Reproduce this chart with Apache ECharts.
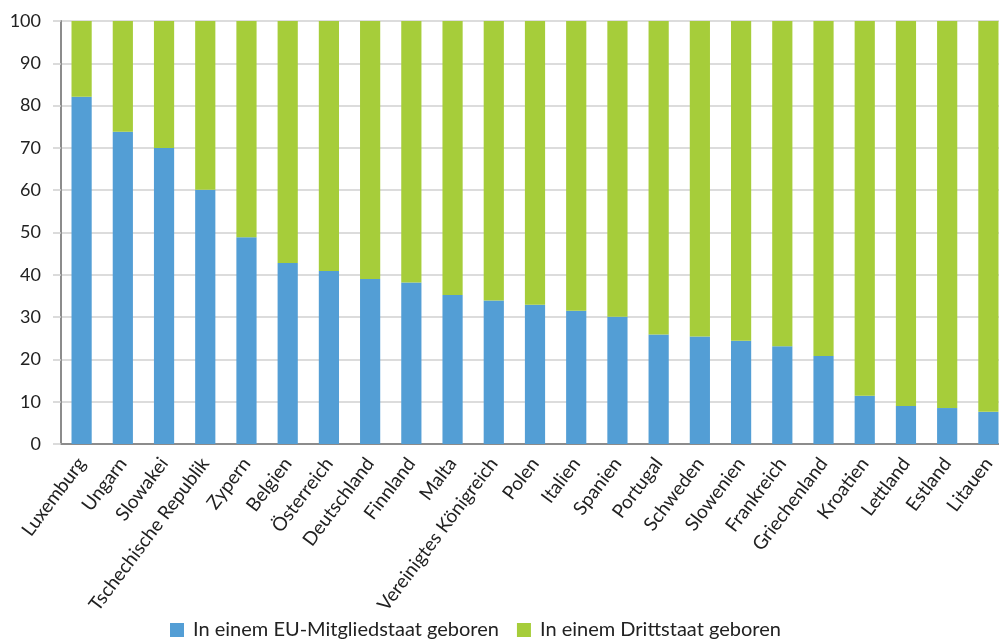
<!DOCTYPE html>
<html>
<head>
<meta charset="utf-8">
<script src="https://cdn.jsdelivr.net/npm/echarts@6/dist/echarts.min.js"></script>
<style>
  html, body { margin: 0; padding: 0; background: #fff; }
  #chart { width: 999px; height: 639px; }
</style>
</head>
<body>
<div id="chart"></div>
<script>
// Countries, sorted by share born in another EU member state
const countries = [
  'Luxemburg', 'Ungarn', 'Slowakei', 'Tschechische Republik', 'Zypern', 'Belgien',
  'Österreich', 'Deutschland', 'Finnland', 'Malta', 'Vereinigtes Königreich', 'Polen',
  'Italien', 'Spanien', 'Portugal', 'Schweden', 'Slowenien', 'Frankreich',
  'Griechenland', 'Kroatien', 'Lettland', 'Estland', 'Litauen'
];

// Share (%) born in another EU member state
const bornEU = [
  82.1, 73.8, 70.0, 60.1, 48.9, 42.8,
  40.9, 39.0, 38.2, 35.2, 33.9, 32.9,
  31.5, 30.1, 25.9, 25.4, 24.4, 23.1,
  20.8, 11.4, 9.0, 8.5, 7.6
];

// Share (%) born in a third country (remainder to 100)
const bornThird = [
  17.9, 26.2, 30.0, 39.9, 51.1, 57.2,
  59.1, 61.0, 61.8, 64.8, 66.1, 67.1,
  68.5, 69.9, 74.1, 74.6, 75.6, 76.9,
  79.2, 88.6, 91.0, 91.5, 92.4
];

const yTicks = { min: 0, max: 100, interval: 10 };

const seriesNames = ['In einem EU-Mitgliedstaat geboren', 'In einem Drittstaat geboren'];
const colors = ['#539ED5', '#A6CD3A'];

const font = 'Lato, "Open Sans", sans-serif';

const chart = echarts.init(document.getElementById('chart'), null, { renderer: 'canvas' });

chart.setOption({
  animation: false,
  color: colors,
  textStyle: { fontFamily: font },
  grid: {
    left: 61, top: 21, width: 948, height: 423,
    containLabel: false,
    outerBoundsMode: 'none'
  },
  legend: {
    left: 170,
    top: 620,
    padding: 0,
    itemWidth: 14,
    itemHeight: 14,
    itemGap: 18,
    icon: 'rect',
    textStyle: { fontFamily: font, fontSize: 20, color: '#222', padding: [0, 0, 0, 4] },
    data: seriesNames
  },
  xAxis: {
    type: 'category',
    data: countries,
    boundaryGap: true,
    axisLine: { show: true, lineStyle: { color: '#8c8c8c', width: 2 } },
    axisTick: { show: false },
    axisLabel: {
      interval: 0,
      rotate: 53,
      margin: 16,
      fontFamily: font,
      fontSize: 19,
      color: '#222'
    }
  },
  yAxis: {
    type: 'value',
    min: yTicks.min,
    max: yTicks.max,
    interval: yTicks.interval,
    axisLine: { show: true, lineStyle: { color: '#8c8c8c', width: 2 } },
    axisTick: { show: true, length: 8, lineStyle: { color: '#d0d0d0', width: 1.5 } },
    axisLabel: { margin: 20, fontFamily: font, fontSize: 18, color: '#222' },
    splitLine: { show: true, lineStyle: { color: '#d0d0d0', width: 1.5 } }
  },
  series: [
    {
      name: seriesNames[0],
      type: 'bar',
      stack: 'total',
      barWidth: '49%',
      data: bornEU,
      itemStyle: { color: colors[0] }
    },
    {
      name: seriesNames[1],
      type: 'bar',
      stack: 'total',
      barWidth: '49%',
      data: bornThird,
      itemStyle: { color: colors[1] }
    }
  ]
});
</script>
</body>
</html>
